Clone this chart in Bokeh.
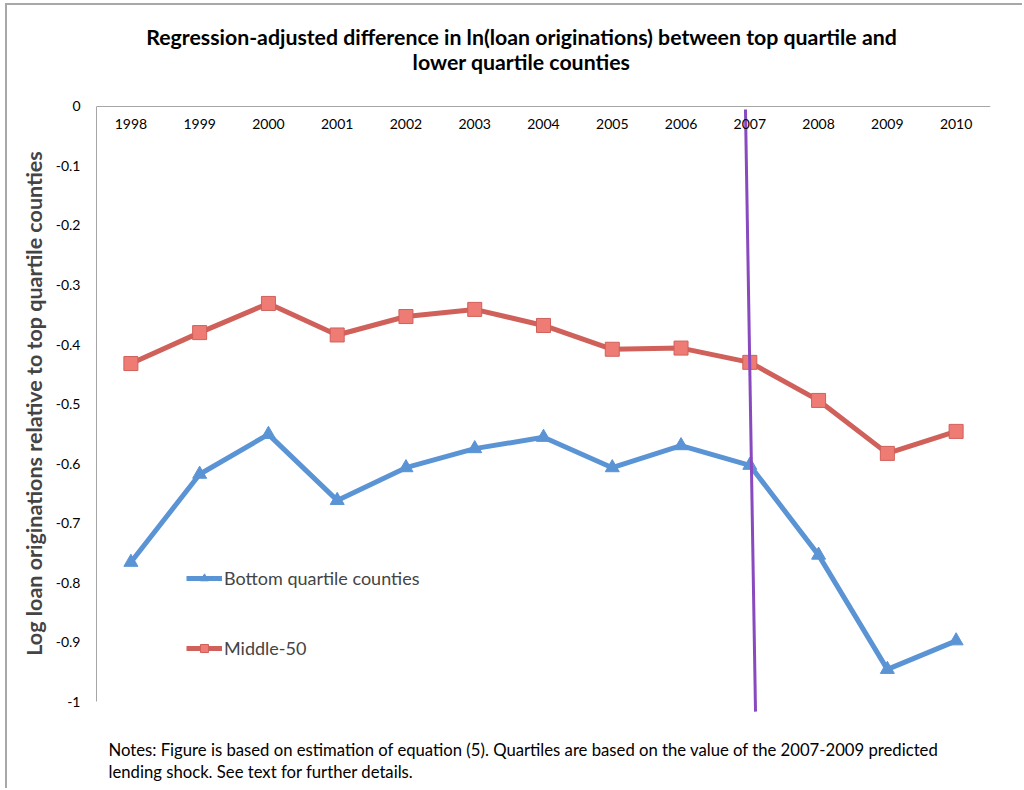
from bokeh.plotting import figure
from bokeh.models import (FactorRange, Range1d, CategoricalAxis, LinearAxis, FixedTicker,
                          NumeralTickFormatter, Legend, LegendItem, Label, ColumnDataSource)
from bokeh.embed import file_html
from bokeh.resources import INLINE

years = ["1998", "1999", "2000", "2001", "2002", "2003", "2004",
         "2005", "2006", "2007", "2008", "2009", "2010"]
bottom_quartile = [-0.766, -0.618, -0.551, -0.662, -0.607, -0.575, -0.556,
                   -0.607, -0.570, -0.603, -0.754, -0.946, -0.898]
middle_50 = [-0.432, -0.380, -0.331, -0.384, -0.353, -0.341, -0.368,
             -0.408, -0.406, -0.430, -0.494, -0.583, -0.546]
y_ticks = [0, -0.1, -0.2, -0.3, -0.4, -0.5, -0.6, -0.7, -0.8, -0.9, -1]
shock_year = "2007"

TITLE_LINES = ["Regression-adjusted difference in ln(loan originations) between top quartile and",
               "lower quartile counties"]
YLABEL = "Log loan originations relative to top quartile counties"
NOTE_LINES = ["Notes: Figure is based on estimation of equation (5).  Quartiles are based on the value of the 2007-2009 predicted",
              "lending shock.  See text for further details."]

FONT = "Lato"
BLUE = "#5B94D4"
RED_LINE = "#D0605A"
RED_FILL = "#EE7C75"
PURPLE = "#8A4ABF"
AXIS = "#A6A6A6"

# The frame spans (almost) the whole chart height so that the title and notes,
# drawn as labels inside it, are not clipped; the value axis only covers -1..0.
p = figure(width=1017, height=785,
           x_range=FactorRange(factors=years), y_range=Range1d(-1.1445, 0.1462),
           output_backend="svg", toolbar_location=None,
           x_axis_location=None, y_axis_location=None,
           min_border_left=89, min_border_right=34, min_border_top=14, min_border_bottom=3,
           background_fill_color="white", border_fill_color="white")
p.outline_line_color = None
p.grid.visible = False
p.styles = {"margin-left": "5px", "margin-top": "3px",
            "border-left": "2px solid #A8A8A8", "border-top": "2px solid #A8A8A8"}

yaxis = LinearAxis(ticker=FixedTicker(ticks=y_ticks), formatter=NumeralTickFormatter(format="0.[0]"),
                   bounds=(-1, 0), axis_label=YLABEL,
                   axis_label_text_font=FONT, axis_label_text_font_style="bold",
                   axis_label_text_font_size="21.5px", axis_label_standoff=6,
                   major_tick_out=0, major_tick_in=0, minor_tick_out=0, minor_tick_in=0,
                   major_label_standoff=16, axis_line_color=AXIS, axis_line_width=1,
                   major_label_text_font=FONT, major_label_text_font_size="14px",
                   major_label_text_color="black")
p.add_layout(yaxis, "left")

xaxis = CategoricalAxis(fixed_location=0, major_tick_out=0, major_tick_in=0,
                        major_label_standoff=13, axis_line_color=AXIS, axis_line_width=1,
                        major_label_text_font=FONT, major_label_text_font_size="14px",
                        major_label_text_color="black")
p.add_layout(xaxis, "below")

src = ColumnDataSource(dict(year=years, bottom=bottom_quartile, middle=middle_50))

rb_line = p.line("year", "bottom", source=src, line_color=BLUE, line_width=5)
rb_pts = p.scatter("year", "bottom", source=src, marker="triangle", size=14,
                   fill_color=BLUE, line_color=BLUE)
rm_line = p.line("year", "middle", source=src, line_color=RED_LINE, line_width=5)
rm_pts = p.scatter("year", "middle", source=src, marker="square", size=14,
                   fill_color=RED_FILL, line_color=RED_LINE, line_width=1)

shock = ColumnDataSource(dict(x0=[(shock_year, -0.063)], y0=[-0.005],
                              x1=[(shock_year, 0.083)], y1=[-1.017]))
p.segment("x0", "y0", "x1", "y1", source=shock, line_color=PURPLE, line_width=3)

legend = Legend(items=[LegendItem(label="Bottom quartile counties", renderers=[rb_line, rb_pts]),
                       LegendItem(label="Middle-50", renderers=[rm_line, rm_pts])],
                location=(90, 128), border_line_color=None, background_fill_alpha=0,
                padding=0, margin=0, spacing=48, glyph_width=36, glyph_height=20,
                label_height=20, label_standoff=2, label_text_font=FONT,
                label_text_font_size="18px")
p.add_layout(legend)

# title lines (screen units relative to the plot frame's bottom-left corner)
for txt, ty in zip(TITLE_LINES, [751, 726]):
    p.add_layout(Label(x=425, y=ty, x_units="screen", y_units="screen", text=txt,
                       text_align="center", text_baseline="middle", text_font=FONT,
                       text_font_style="bold", text_font_size="21.3px", text_color="black"))

for txt, ty in zip(NOTE_LINES, [38, 16]):
    p.add_layout(Label(x=12, y=ty, x_units="screen", y_units="screen", text=txt,
                       text_align="left", text_baseline="middle", text_font=FONT,
                       text_font_size="16.7px", text_color="black"))

open("out.html", "w").write(file_html(p, INLINE))
